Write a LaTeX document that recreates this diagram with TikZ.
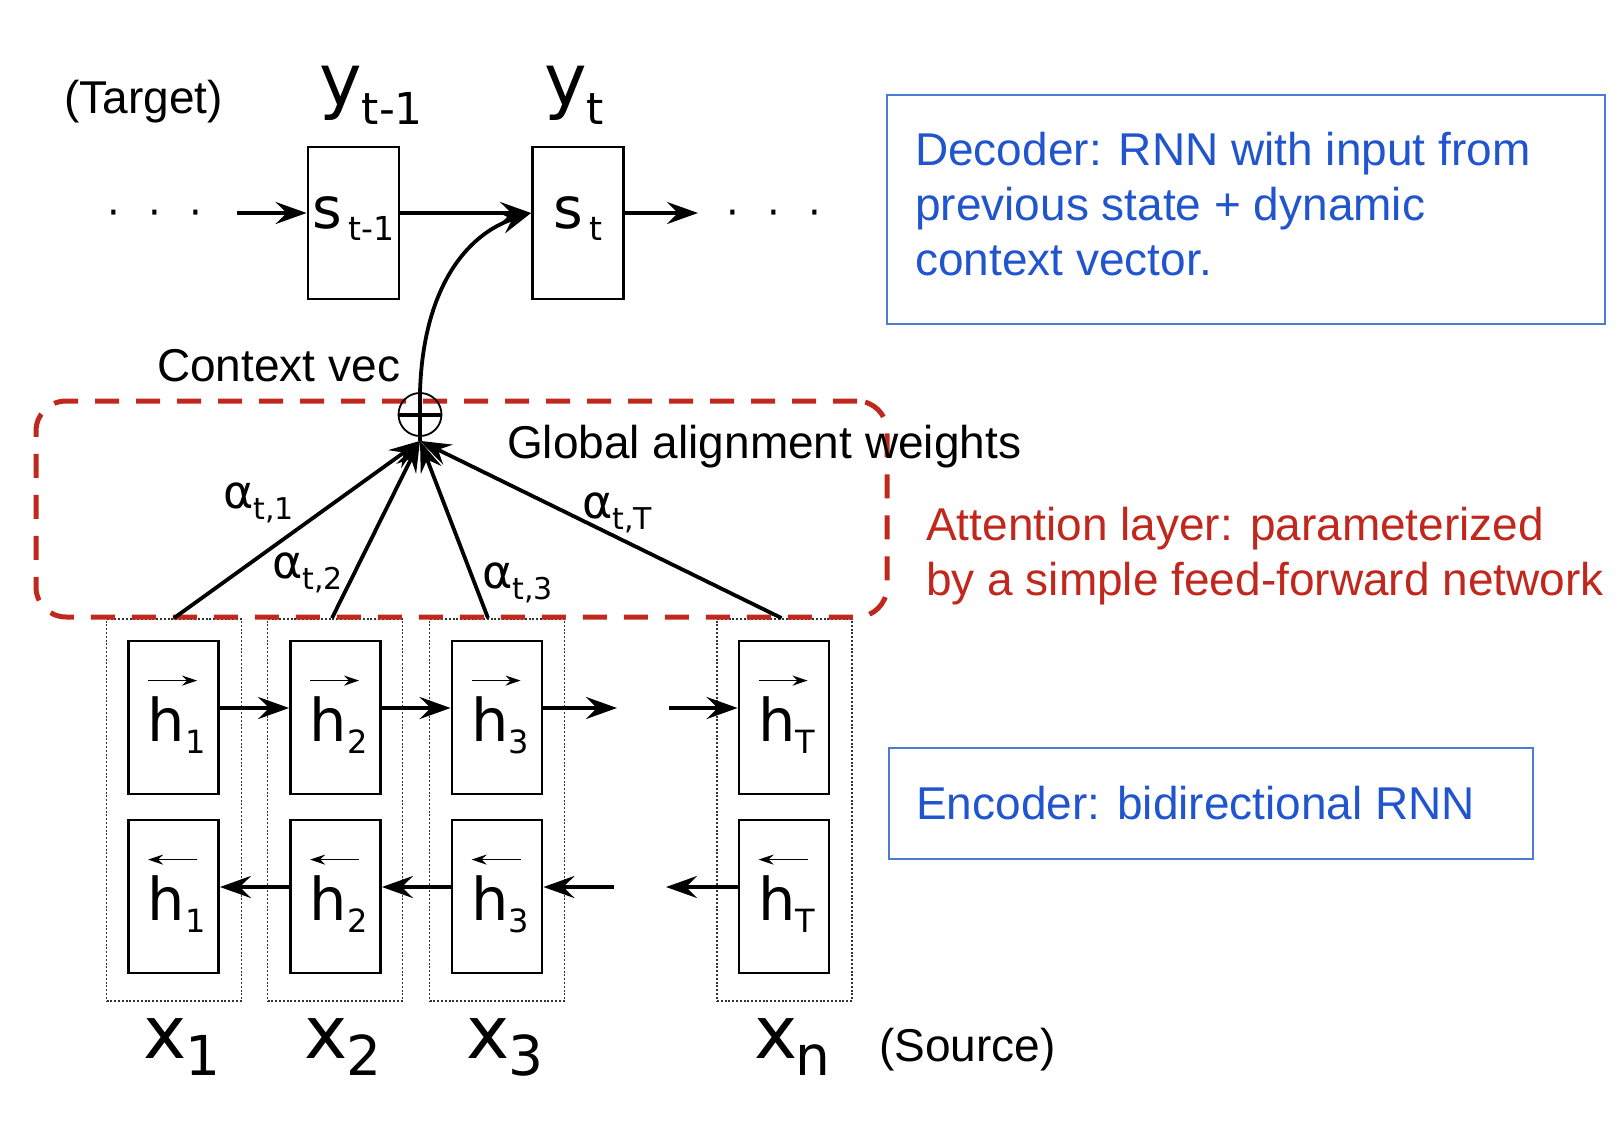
\documentclass[tikz,border=0pt]{standalone}
\usepackage{fontspec}
\setmainfont{Liberation Sans}
\newfontfamily\djv{DejaVu Sans}
\usetikzlibrary{arrows.meta,calc}
\newcommand\setfs[1]{\fontsize{#1}{#1}\selectfont}
\newcommand\symlab[6]{{\djv\setfs{#1}#2\hspace{#6pt}\raisebox{-#5pt}{\setfs{#3}#4}}}
\definecolor{decblue}{RGB}{33,85,205}
\definecolor{boxblue}{RGB}{74,123,213}
\definecolor{attred}{RGB}{192,40,30}
\definecolor{dotgray}{RGB}{50,50,50}
\tikzset{
  cell/.style={draw, line width=2.8pt, minimum width=90pt, minimum height=153pt, inner sep=0},
  frame/.style={draw=dotgray, line width=1.9pt, dash pattern=on 2pt off 1.8pt, minimum width=135pt, minimum height=382pt, inner sep=0},
  arr/.style={line width=3.8pt, -{Stealth[length=31pt,width=22pt,inset=11pt]}},
  thinarr/.style={line width=1.7pt, -{Stealth[length=15pt,width=10pt,inset=5pt]}},
  lbl/.style={inner sep=0, anchor=base},
  txt/.style={inner sep=0, anchor=base west, font=\setfs{46}},
  blk/.style={inner sep=0, anchor=north west, align=left, font=\fontsize{46}{55}\selectfont},
  infobox/.style={draw=boxblue, line width=2.5pt, inner sep=0},
}
\begin{document}
\begin{tikzpicture}[x=1pt,y=-1pt]
\useasboundingbox (0,0) rectangle (1618,1122);

% ---- decoder ----
\node[txt] (target) at (64,113) {(Target)};
\node[lbl, anchor=base west] (y1) at (319,105) {\symlab{72}{y}{44}{t-1}{19}{0}};
\node[lbl, anchor=base west] (y2) at (544,105) {\symlab{72}{y}{44}{t}{19}{0}};

\node[cell, minimum width=91pt, minimum height=152pt] (st1) at (353.5,223) {};
\node[cell, minimum width=91pt, minimum height=152pt] (st) at (578,223) {};
\node[lbl] (st1l) at (353.5,228) {\symlab{57}{s}{33}{t-1}{12}{6}};
\node[lbl] (stl) at (578,228) {\symlab{57}{s}{33}{t}{12}{6}};

\node[lbl] (ldots) at (155,226) {\djv\setfs{40}·\hspace{28.3pt}·\hspace{28.3pt}·};
\node[lbl] (rdots) at (774,226) {\djv\setfs{40}·\hspace{28.3pt}·\hspace{28.3pt}·};
\coordinate (la) at (237,213);
\coordinate (ra) at (698,213);
\draw[arr] (la) -- ([yshift=10pt]st1.west);
\draw[arr] ([yshift=10pt]st1.east) -- ([yshift=10pt]st.west);
\draw[arr] ([yshift=10pt]st.east) -- (ra);

% ---- encoder frames ----
\node[frame] (c1) at (174,810) {};
\node[frame] (c2) at (335,810) {};
\node[frame] (c3) at (497,810) {};
\node[frame] (c4) at (784.5,810) {};

% ---- attention layer frame ----
\node[draw=attred, line width=5pt, dash pattern=on 24pt off 17pt, rounded corners=30pt,
      minimum width=851pt, minimum height=216pt, inner sep=0] (attn) at (461.5,509) {};

% ---- encoder cells ----
\foreach \i/\x in {1/173.5,2/335.5,3/497,4/784}{
  \node[cell] (hf\i) at (\x,717.5) {};
  \node[cell] (hb\i) at (\x,896.5) {};
}
\foreach \i/\s in {1/1,2/2,3/3,4/T}{
  \node[lbl] (hf\i l) at ($(hf\i.center)+(3,23.5)$) {\symlab{59}{h}{32}{\s}{12}{0}};
  \node[lbl] (hb\i l) at ($(hb\i.center)+(3,23.5)$) {\symlab{59}{h}{32}{\s}{12}{0}};
  \draw[thinarr] ($(hf\i.north west)+(21,41)$) -- ($(hf\i.north west)+(70,41)$);
  \draw[thinarr] ($(hb\i.north west)+(70,41)$) -- ($(hb\i.north west)+(21,41)$);
}

\coordinate (fa) at (617,708);
\coordinate (fb) at (669,708);
\coordinate (ba) at (614,887);
\coordinate (bb) at (666,887);
\draw[arr] ([yshift=9.5pt]hf1.east) -- ([yshift=9.5pt]hf2.west);
\draw[arr] ([yshift=9.5pt]hf2.east) -- ([yshift=9.5pt]hf3.west);
\draw[arr] ([yshift=9.5pt]hf3.east) -- (fa);
\draw[arr] (fb) -- ([yshift=9.5pt]hf4.west);
\draw[arr] ([yshift=9.5pt]hb2.west) -- ([yshift=9.5pt]hb1.east);
\draw[arr] ([yshift=9.5pt]hb3.west) -- ([yshift=9.5pt]hb2.east);
\draw[arr] (ba) -- ([yshift=9.5pt]hb3.east);
\draw[arr] ([yshift=9.5pt]hb4.west) -- (bb);

\node[lbl] (x1) at ($(c1.south)+(8,57)$) {\symlab{73}{x}{55}{1}{17}{-2}};
\node[lbl] (x2) at ($(c2.south)+(8,57)$) {\symlab{73}{x}{55}{2}{17}{-2}};
\node[lbl] (x3) at ($(c3.south)+(8,57)$) {\symlab{73}{x}{55}{3}{17}{-2}};
\node[lbl] (xn) at ($(c4.south)+(8,57)$) {\symlab{73}{x}{55}{n}{17}{-2}};
\node[txt] (source) at (879,1061) {(Source)};

% ---- context vector ----
\node[circle, draw, line width=1.8pt, minimum size=43pt, inner sep=0] (oplus) at (420,414.5) {};
\coordinate (conv) at ([yshift=-4pt]oplus.south);
\draw[line width=4pt] (oplus.west) -- (oplus.east);
\draw[line width=3.8pt] (oplus.north) -- (conv);
\draw[arr] (oplus.north) .. controls (423,290) and (465,235) .. ([yshift=10pt]st.west);
\node[txt] (ctx) at (157,381) {Context vec};
\node[txt] (gaw) at (507,458) {Global alignment weights};

\draw[arr] (c1.north) -- (conv);
\draw[arr] ([xshift=-3pt]c2.north) -- (conv);
\draw[arr] ([xshift=-9pt]c3.north) -- (conv);
\draw[arr] ([xshift=-3pt]c4.north) -- (conv);

\node[lbl, anchor=base west] (a1) at (223,508) {\symlab{46}{α}{30}{t,1}{11}{0}};
\node[lbl, anchor=base west] (a2) at (272,578) {\symlab{46}{α}{30}{t,2}{11}{0}};
\node[lbl, anchor=base west] (a3) at (482,588) {\symlab{46}{α}{30}{t,3}{11}{0}};
\node[lbl, anchor=base west] (aT) at (582,518) {\symlab{46}{α}{30}{t,T}{11}{0}};

% ---- explanations ----
\node[infobox, minimum width=718pt, minimum height=229pt] (dec) at (1246,209.5) {};
\node[blk, text=decblue] (dect) at (915,131.5) {Decoder: RNN with input from\\previous state + dynamic\\context vector.};
\node[blk, text=attred] (attt) at (926,506.5) {Attention layer: parameterized\\by a simple feed-forward network};
\node[infobox, minimum width=644pt, minimum height=111pt] (enc) at (1211,803.5) {};
\node[txt, text=decblue] (enct) at (916,819) {Encoder: bidirectional RNN};
\end{tikzpicture}
\end{document}
